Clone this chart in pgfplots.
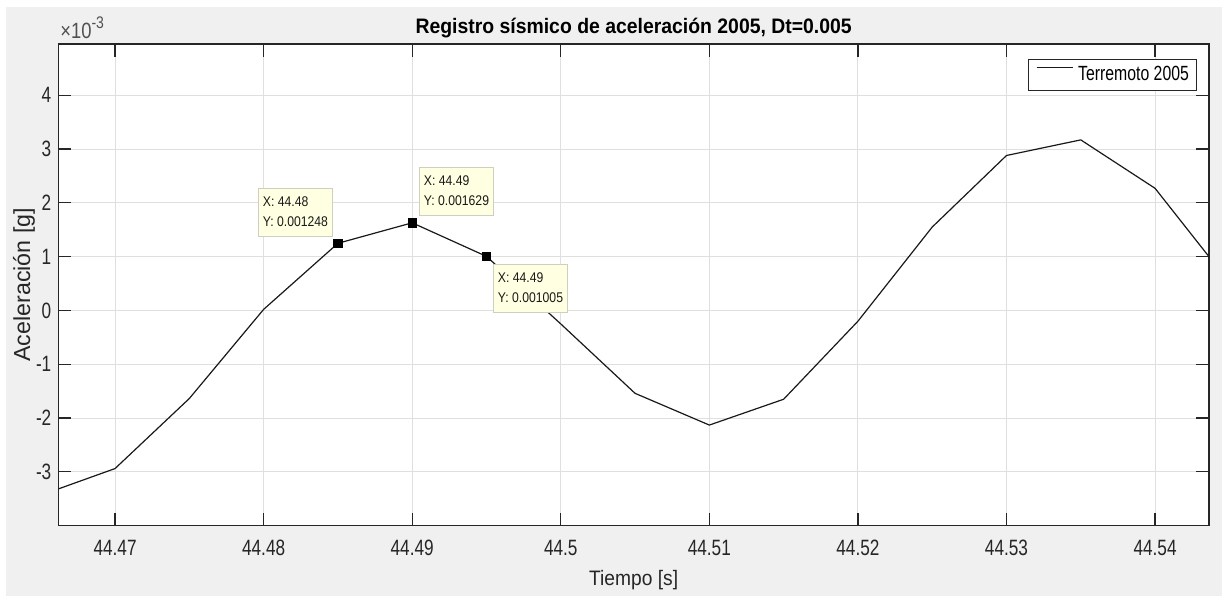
\documentclass[border=0pt]{standalone}
\usepackage{fontspec}
\setmainfont{Liberation Sans}
\usepackage{graphicx}
\usepackage{pgfplots}
\pgfplotsset{compat=1.18}
\definecolor{figbg}{HTML}{F0F0F0}
\definecolor{axcol}{HTML}{262626}
\definecolor{gridcol}{HTML}{DFDFDF}
\definecolor{tipbg}{HTML}{FFFFE1}
\definecolor{tipborder}{HTML}{CFCFBF}
\newcommand\tl[1]{\scalebox{1}[1.29]{#1}}
\newcommand\tipbox[2]{\scalebox{1}[1.15]{\begin{tabular}{@{}l@{}}#1\\#2\end{tabular}}}
\pgfplotstableread{
x y
44.465 -0.003434
44.470 -0.002938
44.475 -0.001636
44.480 0.000020
44.485 0.001248
44.490 0.001629
44.495 0.001005
44.500 -0.000250
44.505 -0.001540
44.510 -0.002130
44.515 -0.001650
44.520 -0.000200
44.525 0.001550
44.530 0.002880
44.535 0.003170
44.540 0.002270
44.545 0.000520
}\datatable
\begin{document}
\begin{tikzpicture}
\fill[white] (0,0) rectangle (614pt,300pt);
\fill[figbg] (3pt,2pt) rectangle (611pt,296.5pt);
\begin{axis}[
  name=ax,
  at={(29.15pt,37.15pt)}, anchor=south west,
  scale only axis, width=575.35pt, height=240.85pt,
  xmin=44.46618, xmax=44.54363, ymin=-0.004, ymax=0.004952,
  axis background/.style={fill=white},
  xtick={44.47,44.48,44.49,44.5,44.51,44.52,44.53,44.54},
  xticklabels={\tl{44.47},\tl{44.48},\tl{44.49},\tl{44.5},\tl{44.51},\tl{44.52},\tl{44.53},\tl{44.54}},
  ytick={-0.003,-0.002,-0.001,0,0.001,0.002,0.003,0.004},
  yticklabels={\tl{-3},\tl{-2},\tl{-1},\tl{0},\tl{1},\tl{2},\tl{3},\tl{4}},
  scaled y ticks=false,
  grid=major, major grid style={gridcol, line width=0.5pt},
  tick align=inside, xtick pos=both, ytick pos=both,
  xticklabel pos=lower, yticklabel pos=left,
  major tick length=6.5pt,
  axis line style={axcol, line width=0.6pt},
  tick style={axcol, line width=0.6pt},
  ticklabel style={font=\fontsize{8.6}{10}\selectfont, text=axcol},
  xticklabel style={inner sep=0pt, anchor=north, yshift=-7.15pt},
  yticklabel style={inner sep=0pt, anchor=east, xshift=-3.3pt},
  every axis title shift=0pt,
  title={\scalebox{1}[1.08]{\textbf{Registro sísmico de aceleración 2005, Dt=0.005}}},
  title style={at={(axis description cs:0.5,1)}, anchor=base, yshift=5.35pt, inner sep=0pt, font=\fontsize{9.7}{11}\selectfont},
  xlabel={\scalebox{1}[1.09]{Tiempo [s]}},
  xlabel style={at={(axis description cs:0.5,-0.092)}, anchor=north, inner sep=0pt, font=\fontsize{9.6}{11}\selectfont, text=axcol},
  ylabel={Aceleración [g]},
  ylabel style={at={(axis description cs:-0.0298,0.5)}, anchor=center, rotate=0, inner sep=0pt, font=\fontsize{11.6}{13}\selectfont, text=axcol},
  legend style={at={(axis description cs:1,1)}, anchor=north east, xshift=-6.2pt, yshift=-7.5pt,
    draw=axcol, line width=0.5pt, fill=white, inner xsep=3.6pt, inner ysep=3.4pt, column sep=2.5pt,
    font=\fontsize{7.9}{9}\selectfont, text=black,
    nodes={inner sep=0pt}},
  legend cell align=left,
  legend image code/.code={\draw[#1] (0pt,3.7pt) -- (18pt,3.7pt);},
]
\addplot[black!90, line width=0.6pt] table[x=x,y=y] {\datatable};
\addlegendentry{\scalebox{1}[1.3]{Terremoto 2005}}
\addplot[only marks, mark=square*, mark size=2.1pt, mark options={fill=black, draw=black}, forget plot] coordinates {(44.485,0.001248) (44.49,0.001629) (44.495,0.001005)};
\tikzset{tip/.style={draw=tipborder, fill=tipbg, line width=0.5pt, inner xsep=2.2pt, inner ysep=2.35pt, text=black!90, font=\fontsize{6.1}{8.4}\selectfont, anchor=north west}}
\node[tip] at (axis cs:44.47962,0.002274) {\tipbox{X: 44.48}{Y: 0.001248}};
\node[tip] at (axis cs:44.49046,0.002665) {\tipbox{X: 44.49}{Y: 0.001629}};
\node[tip] at (axis cs:44.49544,0.000861) {\tipbox{X: 44.49}{Y: 0.001005}};
\end{axis}
\node[anchor=base west, inner sep=0pt, font=\fontsize{9.2}{10}\selectfont, text=axcol!80] at ([xshift=0.8pt,yshift=2.6pt]ax.north west) {\scalebox{1}[1.2]{×10\raisebox{0.85ex}{\fontsize{7}{8}\selectfont -3}}};
\end{tikzpicture}
\end{document}
